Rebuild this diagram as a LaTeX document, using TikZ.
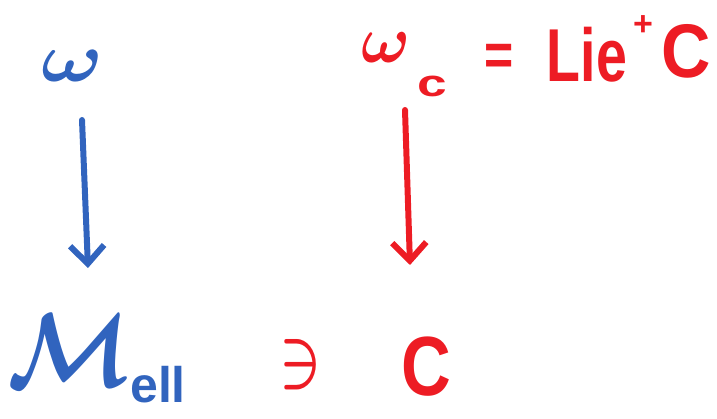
\documentclass[tikz,border=0pt]{standalone}
\usepackage{amsmath}
\usepackage{bm}
\usepackage{fontspec}
\setmainfont{Liberation Sans}
\usepackage{graphicx}
\usetikzlibrary{arrows.meta}
\definecolor{penblue}{HTML}{3164BE}
\definecolor{penred}{HTML}{ED1C24}
\tikzset{
  txt/.style={inner sep=0pt, outer sep=0pt},
  bluetxt/.style={txt, text=penblue},
  redtxt/.style={txt, text=penred},
  pen/.style={line width=6pt, line cap=round, line join=round,
    -{Straight Barb[length=18pt,width=34pt,line width=6pt]}},
}
\begin{document}
\begin{tikzpicture}[x=1pt,y=-1pt]
\useasboundingbox (0,0) rectangle (717,419);
% blue column
\node[bluetxt] (w) at (72,66) {\scalebox{8.2}[7]{$\bm{\omega}$}};
\node[bluetxt] (M) at (70,350) {\scalebox{9}[10.5]{$\bm{\mathcal{M}}$}};
\node[bluetxt] (ell) at (158,385) {\fontsize{50}{50}\selectfont\bfseries ell};
\coordinate (b1) at (82,120);
\coordinate (b2) at (88,268);
\draw[pen, penblue] (b1) -- (b2);
% red column
\node[redtxt] (wc) at (386,48) {\scalebox{6.5}[6.7]{$\bm{\omega}$}};
\node[redtxt] (c) at (432,86) {\fontsize{38}{38}\selectfont\bfseries\scalebox{1.4}[1]{c}};
\node[redtxt] (eq) at (499,60) {\fontsize{50}{50}\selectfont\bfseries\scalebox{1}[1.2]{=}};
\node[redtxt] (lie) at (587,55) {\fontsize{75}{75}\selectfont\bfseries\scalebox{0.74}[1]{Lie}};
\node[redtxt] (plus) at (643,26) {\fontsize{34}{34}\selectfont\bfseries +};
\node[redtxt] (C1) at (686,51) {\fontsize{76}{76}\selectfont\bfseries\scalebox{0.9}[1]{C}};
\coordinate (r1) at (405,110);
\coordinate (r2) at (410,265);
\draw[pen, penred] (r1) -- (r2);
% bottom row
\node[redtxt] (ni) at (301,365) {\scalebox{5.5}[7.5]{$\bm{\ni}$}};
\node[redtxt] (C2) at (426,367) {\fontsize{84}{84}\selectfont\bfseries\scalebox{0.82}[1]{C}};
\end{tikzpicture}
\end{document}
